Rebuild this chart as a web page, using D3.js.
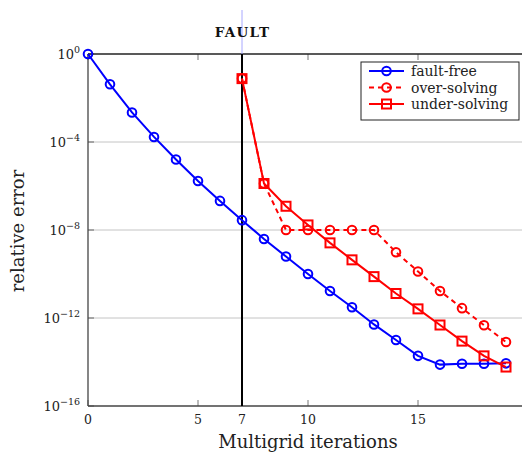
<!DOCTYPE html>
<html>
<head>
<meta charset="utf-8">
<script src="https://cdn.jsdelivr.net/npm/d3@7"></script>
<style>
  body { margin: 0; background: #fff; }
</style>
</head>
<body>
<div id="graph"></div>
<script>
// iteration numbers
let iterations = [0, 1, 2, 3, 4, 5, 6, 7, 8, 9, 10, 11, 12, 13, 14, 15, 16, 17, 18, 19];
let faultIter = 7;

let faultFree = [1, 4.2e-2, 2.2e-3, 1.7e-4, 1.6e-5, 1.7e-6, 2.1e-7, 2.8e-8, 3.9e-9, 6.2e-10,
                 1e-10, 1.7e-11, 3.1e-12, 5.1e-13, 1e-13, 1.9e-14, 7.6e-15, 8.3e-15, 8.3e-15, 8.7e-15];
let overIter = [7, 8, 9, 10, 11, 12, 13, 14, 15, 16, 17, 18, 19];
let overSolving = [7.6e-2, 1.3e-6, 1e-8, 1e-8, 1e-8, 1e-8, 1e-8, 9.8e-10, 1.3e-10, 1.7e-11, 2.8e-12, 4.7e-13, 8.1e-14];
let underIter = [7, 8, 9, 10, 11, 12, 13, 14, 15, 16, 17, 18, 19];
let underSolving = [7.6e-2, 1.3e-6, 1.2e-7, 1.7e-8, 2.6e-9, 4.4e-10, 7.6e-11, 1.3e-11, 2.6e-12, 4.8e-13, 8.9e-14, 1.9e-14, 5.9e-15];

let xTicks = [0, 5, 7, 10, 15];
let yTicks = [1, 1e-4, 1e-8, 1e-12, 1e-16];
let yTickExp = ['0', '\u22124', '\u22128', '\u221212', '\u221216'];
let legendNames = ['fault-free', 'over-solving', 'under-solving'];

let W = 522, H = 455;
let mLeft = 88, mTop = 54, plotW = 440, plotH = 352;
let serif = 'DejaVu Serif';

let x = d3.scaleLinear().domain([0, 20]).range([0, plotW]);
let y = d3.scaleLog().domain([1e-16, 1]).range([plotH, 0]);

let svg = d3.select('#graph')
    .append('svg')
        .attr('width', W)
        .attr('height', H)
        .style('display', 'block')
        .attr('font-family', serif);
let g = svg.append('g').attr('transform', 'translate(' + mLeft + ',' + mTop + ')');

// grid
g.selectAll('.grid')
    .data(yTicks.slice(1, 4))
  .enter().append('line')
    .attr('x1', 0).attr('x2', plotW)
    .attr('y1', d => y(d)).attr('y2', d => y(d))
    .attr('stroke', '#c4c4c4').attr('stroke-width', 1);

// y tick marks
g.selectAll('.ytick')
    .data(yTicks)
  .enter().append('line')
    .attr('x1', 0).attr('x2', 6)
    .attr('y1', d => y(d)).attr('y2', d => y(d))
    .attr('stroke', '#666');

// x tick marks, bottom and top (inside)
[plotH, 0].forEach(pos => {
    g.selectAll(null)
        .data(xTicks.filter(d => d !== faultIter))
      .enter().append('line')
        .attr('x1', d => x(d)).attr('x2', d => x(d))
        .attr('y1', pos).attr('y2', pos === 0 ? 6 : plotH - 6)
        .attr('stroke', '#777');
});

// frame
g.append('line').attr('x1', 0).attr('x2', plotW).attr('y1', 0).attr('y2', 0)
    .attr('stroke', '#222').attr('stroke-width', 1.3);
g.append('line').attr('x1', 0).attr('x2', plotW).attr('y1', plotH).attr('y2', plotH)
    .attr('stroke', '#444').attr('stroke-width', 1.3);
g.append('line').attr('x1', 0).attr('x2', 0).attr('y1', 0).attr('y2', plotH)
    .attr('stroke', '#444').attr('stroke-width', 1.3);

// y tick labels
let yl = g.selectAll('.ylab')
    .data(yTicks)
  .enter().append('text')
    .attr('x', -8)
    .attr('y', d => y(d) + 5)
    .attr('text-anchor', 'end')
    .attr('font-size', 13)
    .attr('fill', '#222');
yl.append('tspan').text('10');
yl.append('tspan').attr('dy', -6).attr('font-size', 9.5).text((d, i) => yTickExp[i]);

// x tick labels
g.selectAll('.xlab')
    .data(xTicks)
  .enter().append('text')
    .attr('x', d => x(d))
    .attr('y', plotH + 18)
    .attr('text-anchor', 'middle')
    .attr('font-size', 12.5)
    .attr('fill', '#222')
    .text(d => d);

// axis titles
svg.append('text')
    .attr('x', 308).attr('y', 448)
    .attr('text-anchor', 'middle')
    .attr('font-size', 18)
    .attr('fill', '#222')
    .text('Multigrid iterations');
svg.append('text')
    .attr('transform', 'translate(24,231) rotate(-90)')
    .attr('text-anchor', 'middle')
    .attr('font-size', 18)
    .attr('fill', '#222')
    .text('relative error');

// fault marker
svg.append('line')
    .attr('x1', mLeft + x(faultIter)).attr('x2', mLeft + x(faultIter))
    .attr('y1', 10).attr('y2', mTop)
    .attr('stroke', '#a8a8ff').attr('stroke-width', 1);
svg.append('text')
    .attr('x', mLeft + x(faultIter) + 0.6).attr('y', 37)
    .attr('text-anchor', 'middle')
    .attr('font-size', 13.5)
    .attr('font-weight', 'bold')
    .attr('letter-spacing', 1.2)
    .attr('fill', '#111')
    .text('FAULT');
g.append('line')
    .attr('x1', x(faultIter)).attr('x2', x(faultIter))
    .attr('y1', 0).attr('y2', plotH)
    .attr('stroke', '#000').attr('stroke-width', 2);

let line = d3.line().x(d => x(d[0])).y(d => y(d[1]));

function drawSeries(xs, ys, color, dash, marker) {
    let pts = xs.map((d, i) => [d, ys[i]]);
    g.append('path')
        .datum(pts)
        .attr('d', line)
        .attr('fill', 'none')
        .attr('stroke', color)
        .attr('stroke-width', 2)
        .attr('stroke-dasharray', dash);
    if (marker === 'circle') {
        g.selectAll(null)
            .data(pts)
          .enter().append('circle')
            .attr('cx', d => x(d[0])).attr('cy', d => y(d[1]))
            .attr('r', 4.3)
            .attr('fill', 'none')
            .attr('stroke', color)
            .attr('stroke-width', 2);
    } else {
        g.selectAll(null)
            .data(pts)
          .enter().append('rect')
            .attr('x', d => x(d[0]) - 4.5).attr('y', d => y(d[1]) - 4.5)
            .attr('width', 9).attr('height', 9)
            .attr('fill', 'none')
            .attr('stroke', color)
            .attr('stroke-width', 2);
    }
}

drawSeries(iterations, faultFree, '#0000ff', null, 'circle');
drawSeries(overIter, overSolving, '#ff0000', '5,4', 'circle');
drawSeries(underIter, underSolving, '#ff0000', null, 'square');

// legend
let leg = svg.append('g').attr('transform', 'translate(361,62)');
leg.append('rect')
    .attr('width', 158).attr('height', 58)
    .attr('fill', '#fff')
    .attr('stroke', '#222')
    .attr('stroke-width', 1);
let legColors = ['#0000ff', '#ff0000', '#ff0000'];
let legDash = [null, '5,4', null];
let legMark = ['circle', 'circle', 'square'];
legendNames.forEach((name, i) => {
    let ly = 9 + i * 16.5;
    leg.append('line')
        .attr('x1', 8).attr('x2', 43)
        .attr('y1', ly).attr('y2', ly)
        .attr('stroke', legColors[i]).attr('stroke-width', 2)
        .attr('stroke-dasharray', legDash[i]);
    if (legMark[i] === 'circle') {
        leg.append('circle').attr('cx', 25.5).attr('cy', ly).attr('r', 4.3)
            .attr('fill', 'none').attr('stroke', legColors[i]).attr('stroke-width', 2);
    } else {
        leg.append('rect').attr('x', 21).attr('y', ly - 4.5).attr('width', 9).attr('height', 9)
            .attr('fill', 'none').attr('stroke', legColors[i]).attr('stroke-width', 2);
    }
    leg.append('text')
        .attr('x', 50).attr('y', ly + 5)
        .attr('font-size', 14)
        .attr('fill', '#222')
        .text(name);
});
</script>
</body>
</html>
